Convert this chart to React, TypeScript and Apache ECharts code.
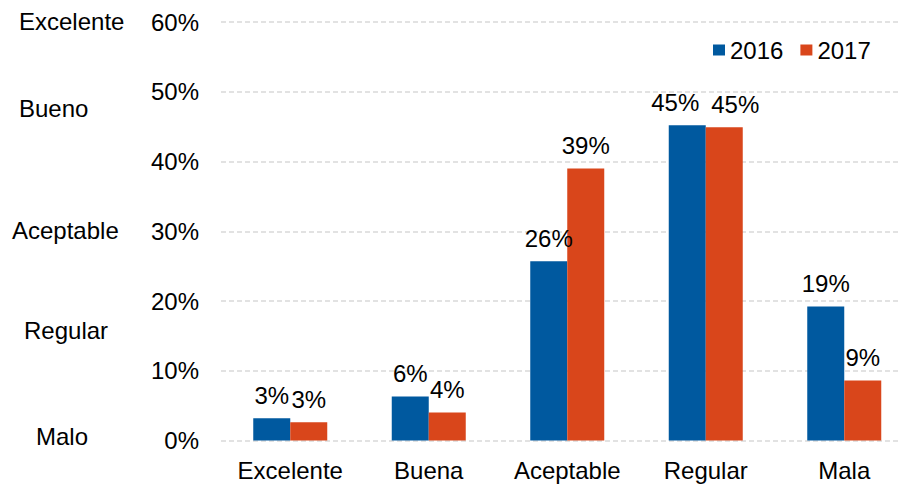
import React, { useEffect, useRef } from "react";
import * as echarts from "echarts";

const categories = ["Excelente", "Buena", "Aceptable", "Regular", "Mala"];
const values2016 = [3.2, 6.3, 25.7, 45.2, 19.2];
const values2017 = [2.6, 4.0, 39.0, 44.9, 8.6];
const seriesNames = ["2016", "2017"];
const qualityLabels = ["Excelente", "Bueno", "Aceptable", "Regular", "Malo"];

const FONT = '"Liberation Sans", Arial, sans-serif';
const FS = 24;
const qualityPos = [
  { x: 19, y: 21 },
  { x: 19, y: 108 },
  { x: 12, y: 230 },
  { x: 24, y: 330 },
  { x: 36, y: 436 },
];
// label nudges to avoid overlap (Regular category)
const offsets2016: Record<number, number[]> = { 3: [-12, 0] };
const offsets2017: Record<number, number[]> = { 3: [11, 0] };

export default function App() {
  const ref = useRef<HTMLDivElement>(null);
  useEffect(() => {
    if (!ref.current) return;
    const chart = echarts.init(ref.current, null, { renderer: "svg" });
    const label = {
      show: true,
      position: "top",
      distance: 11,
      color: "#000",
      fontSize: FS,
      fontFamily: FONT,
      formatter: (p: any) => Math.round(p.value) + "%",
    };
    const mk = (vals: number[], offs: Record<number, number[]>) =>
      vals.map((v, i) => (offs[i] ? { value: v, label: { offset: offs[i] } } : v));
    chart.setOption({
      animation: false,
      textStyle: { fontFamily: FONT },
      grid: {
        left: 221,
        width: 692.5,
        top: 22,
        bottom: 45.5,
        containLabel: false,
        outerBoundsMode: "none",
      },
      legend: {
        left: 708,
        top: 33,
        itemWidth: 12,
        itemHeight: 11,
        itemGap: 17,
        icon: "rect",
        textStyle: { fontSize: FS, color: "#000", fontFamily: FONT },
        data: seriesNames,
      },
      xAxis: {
        type: "category",
        data: categories,
        axisLine: { show: false },
        axisTick: { show: false },
        axisLabel: { color: "#000", fontSize: FS, fontFamily: FONT, margin: 18, interval: 0 },
      },
      yAxis: {
        type: "value",
        min: 0,
        max: 60,
        interval: 10,
        axisLine: { show: false },
        axisTick: { show: false },
        axisLabel: {
          color: "#000",
          fontSize: FS,
          fontFamily: FONT,
          margin: 22,
          formatter: (v: number) => v + "%",
        },
        splitLine: { lineStyle: { color: "#d9d9d9", width: 1.5, type: [5, 3] } },
      },
      graphic: qualityLabels.map((t, i) => ({
        type: "text",
        x: qualityPos[i].x,
        y: qualityPos[i].y,
        style: {
          text: t,
          fontSize: FS,
          fontFamily: FONT,
          fill: "#000",
          textAlign: "left",
          textVerticalAlign: "middle",
        },
      })),
      series: [
        {
          name: seriesNames[0],
          type: "bar",
          data: mk(values2016, offsets2016),
          barWidth: 37,
          barGap: "0%",
          itemStyle: { color: "#00599F" },
          label,
        },
        {
          name: seriesNames[1],
          type: "bar",
          data: mk(values2017, offsets2017),
          barWidth: 37,
          barGap: "0%",
          itemStyle: { color: "#D9461B" },
          label,
        },
      ],
    });
    return () => chart.dispose();
  }, []);
  return (
    <div
      ref={ref}
      style={{ position: "fixed", left: 0, top: 0, width: 901, height: 486, background: "#fff" }}
    />
  );
}
